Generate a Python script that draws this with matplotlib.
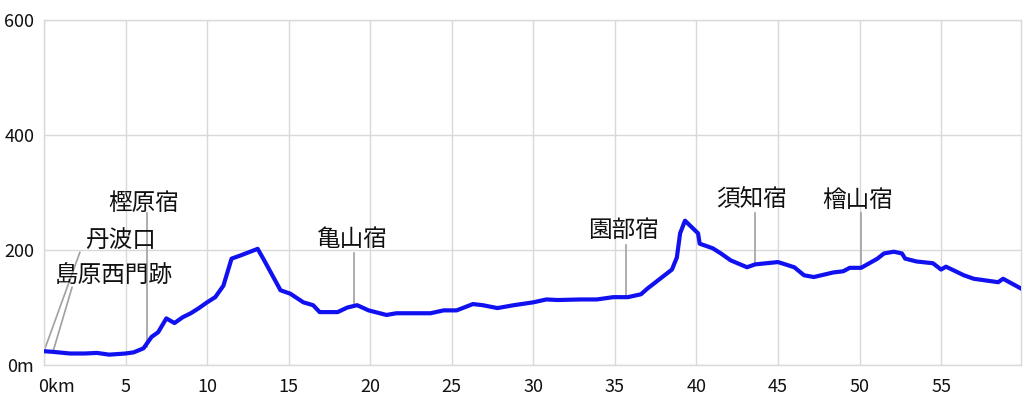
import numpy as np
import matplotlib

matplotlib.use("Agg")
import matplotlib.pyplot as plt
from matplotlib.transforms import ScaledTranslation

plt.rcParams["font.family"] = ["Noto Sans CJK JP", "DejaVu Sans"]

# elevation profile (km, m)
dist_km = [0, 0.5, 1.6, 2.5, 3.25, 4.0, 5.0, 5.5, 6.1, 6.6, 7.0, 7.5, 8.0, 8.5,
           9.0, 9.5, 10.0, 10.5, 11.0, 11.5, 12.0, 13.1, 13.5, 14.0, 14.5, 15.1,
           15.9, 16.5, 16.9, 18.0, 18.6, 19.2, 19.9, 21.0, 21.6, 22.6, 23.7,
           24.5, 25.3, 26.3, 26.9, 27.8, 28.8, 30.0, 30.8, 31.5, 32.9, 33.9,
           34.9, 35.8, 36.6, 37.0, 38.5, 38.8, 39.0, 39.3, 40.1, 40.2, 41.0,
           41.5, 42.1, 43.1, 43.6, 45.0, 46.0, 46.6, 47.2, 48.4, 49.0, 49.4,
           50.1, 51.1, 51.5, 52.1, 52.6, 52.8, 53.5, 54.5, 55.0, 55.3, 56.4,
           57.0, 58.5, 58.8, 59.9]
elev_m = [24, 23, 20, 20, 21, 18, 20, 22, 29, 49, 57, 81, 73, 83,
          90, 99, 109, 118, 138, 185, 190, 202, 182, 156, 130, 124,
          109, 104, 92, 92, 100, 104, 95, 87, 90, 90, 90,
          95, 95, 106, 104, 99, 104, 109, 114, 113, 114, 114,
          118, 118, 123, 133, 166, 187, 229, 251, 229, 211, 203,
          194, 182, 170, 175, 179, 170, 156, 153, 161, 163, 169,
          169, 185, 194, 197, 194, 185, 180, 177, 166, 171, 156,
          150, 144, 150, 133]

# stations on the route
stop_names = ["島原西門跡", "丹波口", "樫原宿", "亀山宿", "園部宿", "須知宿", "檜山宿"]
stop_km = [0.55, 0.0, 6.3, 19.0, 35.7, 43.6, 50.1]
stop_elev = [23, 24, 31, 104, 118, 175, 169]

# label layout: text centre and top end of the leader line (data coords)
label_xy = [(4.3, 154), (4.72, 216), (6.13, 280), (18.9, 218), (35.5, 234),
            (43.4, 287), (49.9, 287)]
leader_end = [(1.72, 135), (2.2, 196), (6.3, 265), (19.0, 194), (35.7, 208),
              (43.6, 265), (50.1, 265)]

xticks = [0, 5, 10, 15, 20, 25, 30, 35, 40, 45, 50, 55]
xlabels = ["0km"] + [str(t) for t in xticks[1:]]
yticks = [0, 200, 400, 600]
ylabels = ["0m", "200", "400", "600"]

fig = plt.figure(figsize=(10.24, 4.0), dpi=100)
ax = fig.add_axes([44 / 1024, 35 / 400, 977 / 1024, 345 / 400])

grid_col = "#d9d9d9"
for s in ax.spines.values():
    s.set_color(grid_col)
    s.set_linewidth(1)
ax.grid(True, color=grid_col, linewidth=1)
ax.set_axisbelow(True)

for i in range(len(stop_names)):
    ax.plot([stop_km[i], leader_end[i][0]], [stop_elev[i], leader_end[i][1]],
            color="#a0a0a0", linewidth=1.2, zorder=2)
    ax.text(label_xy[i][0], label_xy[i][1], stop_names[i], fontsize=17,
            ha="center", va="center", color="#111111", zorder=4)

ax.plot(dist_km, elev_m, color="#1010f0", linewidth=3.0,
        solid_joinstyle="round", zorder=3)

ax.set_xlim(0, dist_km[-1])
ax.set_ylim(0, 600)
ax.set_xticks(xticks)
ax.set_xticklabels(xlabels)
ax.set_yticks(yticks)
ax.set_yticklabels(ylabels)
ax.tick_params(length=0, labelsize=13, colors="#111111")
ax.tick_params(axis="x", pad=9)
ax.tick_params(axis="y", pad=7)
lbl0 = ax.get_xticklabels()[0]
lbl0.set_horizontalalignment("left")
lbl0.set_transform(lbl0.get_transform()
                   + ScaledTranslation(-6 / 100, 0, fig.dpi_scale_trans))

fig.savefig("out.png", dpi=100)
